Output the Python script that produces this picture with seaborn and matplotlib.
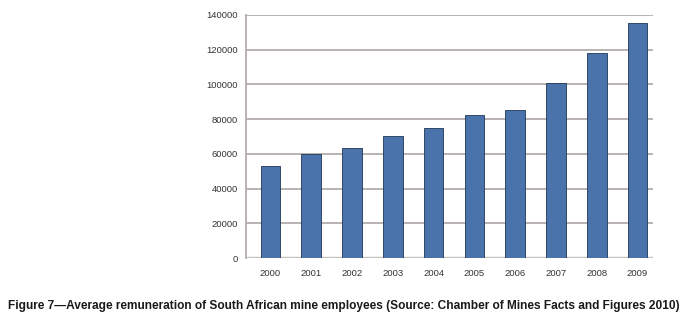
import matplotlib
matplotlib.use("Agg")
import matplotlib.pyplot as plt
import seaborn as sns
import pandas as pd

years = ['2000', '2001', '2002', '2003', '2004', '2005', '2006', '2007', '2008', '2009']
remuneration = [53000, 59800, 63500, 70500, 74800, 82500, 85500, 101000, 118000, 135500]
y_ticks = [0, 20000, 40000, 60000, 80000, 100000, 120000, 140000]
caption = ("Figure 7\u2014Average remuneration of South African mine employees "
           "(Source: Chamber of Mines Facts and Figures 2010)")

df = pd.DataFrame({'year': years, 'pay': remuneration})

sns.set_style("white")
plt.rcParams['font.family'] = ['Liberation Sans', 'DejaVu Sans']

fig = plt.figure(figsize=(6.88, 3.25), dpi=100)
ax = fig.add_axes([0.3576, 0.206, 0.5916, 0.748])

# gridlines behind the bars
for t in y_ticks[1:]:
    ax.axhline(t, color='#b3adab', lw=1.3, zorder=0)

sns.barplot(data=df, x='year', y='pay', color='#4a73ab', saturation=1,
            width=0.48, edgecolor='#1f3556', linewidth=0.6, ax=ax, zorder=2)

ax.set_ylim(0, 140000)
ax.set_xlim(-0.6, 9.38)
ax.set_yticks(y_ticks)
ax.set_yticklabels([str(t) for t in y_ticks])
ax.set_xlabel('')
ax.set_ylabel('')
ax.tick_params(axis='both', labelsize=6.8, colors='#333333', length=0, pad=6)
ax.tick_params(axis='x', pad=8)

for side in ['top', 'right', 'bottom']:
    ax.spines[side].set_visible(False)
ax.spines['left'].set_color('#b3adab')
ax.spines['left'].set_linewidth(1.3)
ax.axhline(0, color='#c8c4c2', lw=2.5, zorder=1)

fig.text(0.5, 0.058, caption, ha='center', va='center', fontsize=8.6,
         fontweight='bold', color='#1a1a1a')

fig.savefig('out.png', dpi=100)
